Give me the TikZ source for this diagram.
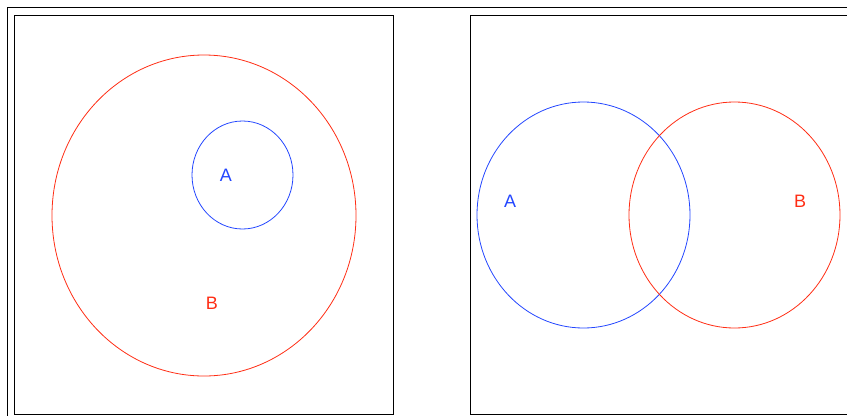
\documentclass[tikz,border=0pt]{standalone}
\usepackage{fontspec}
\setmainfont{Liberation Sans}
\definecolor{setblue}{RGB}{35,70,255}
\definecolor{setred}{RGB}{255,45,20}

\begin{document}
\begin{tikzpicture}[
    x=1pt, y=-1pt,
    frame/.style={draw=black, line width=1pt},
    setA/.style={draw=setblue, line width=0.8pt},
    setB/.style={draw=setred, line width=0.8pt},
    lbl/.style={font=\fontsize{18}{20}\selectfont, inner sep=0pt}]
  \useasboundingbox (0,0) rectangle (847,416);
  % outer frame
  \draw[frame] (847,7.5) -- (7.5,7.5) -- (7.5,416);
  % subset panel
  \draw[frame] (14.5,15) rectangle (393,414.5);
  \draw[setB] (204,215.5) ellipse [x radius=152, y radius=160.5];
  \draw[setA] (242.5,175) ellipse [x radius=50.5, y radius=54];
  \node[lbl, text=setblue] (a1) at (226,175) {A};
  \node[lbl, text=setred] (b1) at (212,303) {B};
  % overlap panel
  \draw[frame] (847,15) -- (470.5,15) -- (470.5,414.5) -- (847,414.5);
  \draw[setA] (583.5,215) ellipse [x radius=106.5, y radius=113];
  \draw[setB] (734.5,215) ellipse [x radius=105.5, y radius=113];
  \node[lbl, text=setblue] (a2) at (510,201) {A};
  \node[lbl, text=setred] (b2) at (800,201) {B};
\end{tikzpicture}
\end{document}
